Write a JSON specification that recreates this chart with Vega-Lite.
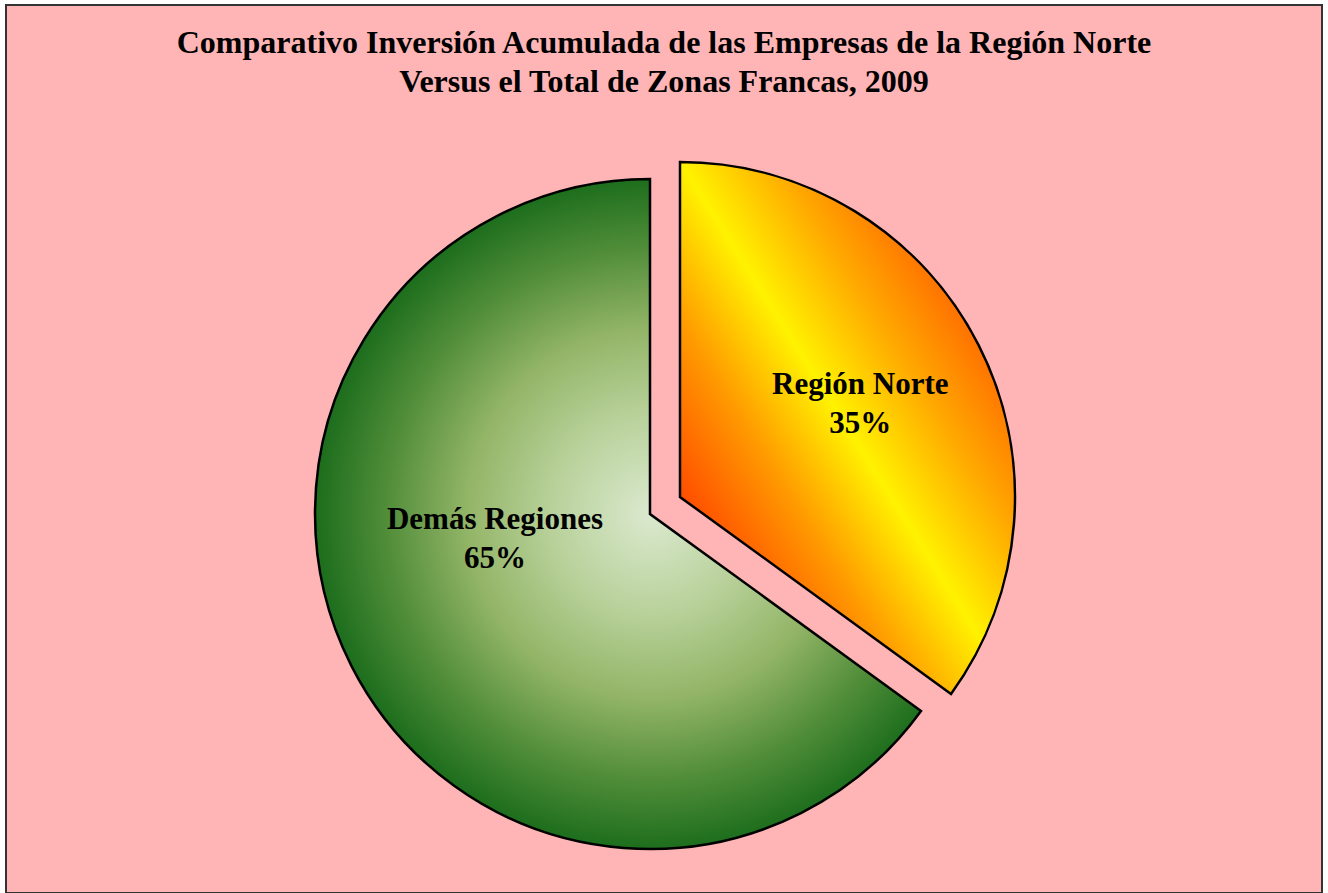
{
  "$schema": "https://vega.github.io/schema/vega-lite/v6.json",
  "autosize": "none",
  "width": 1316,
  "height": 888,
  "padding": {"left": 6, "top": 5, "right": 6, "bottom": 0},
  "background": "#ffffff",
  "view": {"fill": "#ffb5b5", "stroke": "#333333", "strokeWidth": 2},
  "title": {
    "text": ["Comparativo Inversión Acumulada de las Empresas de la Región Norte", "Versus el Total de Zonas Francas, 2009"],
    "font": "Liberation Serif",
    "fontSize": 32,
    "fontWeight": "bold",
    "color": "#000000",
    "anchor": "middle",
    "lineHeight": 39,
    "baseline": "top",
    "offset": -94
  },
  "data": {
    "values": [
      {"region": "Región Norte", "value": 35, "label": "Región Norte\n35%"},
      {"region": "Demás Regiones", "value": 65, "label": "Demás Regiones\n65%"}
    ]
  },
  "encoding": {
    "theta": {"field": "value", "type": "quantitative", "stack": true},
    "order": {"field": "value", "type": "quantitative", "sort": "ascending"}
  },
  "layer": [
    {
      "mark": {
        "type": "arc",
        "radius": 335,
        "stroke": "#000000",
        "strokeWidth": 2.5,
        "x": {"expr": "width/2 - 14"},
        "y": {"expr": "height/2 + 65"},
        "xOffset": {"expr": "datum.region == 'Región Norte' ? 30 : 0"},
        "yOffset": {"expr": "datum.region == 'Región Norte' ? -17 : 0"},
        "fill": {"expr": "datum.region == 'Región Norte' ? {gradient: 'linear', x1: 0, y1: 1, x2: 1, y2: 0, stops: [{offset: 0, color: '#ff2a00'}, {offset: 0.18, color: '#ff4a00'}, {offset: 0.35, color: '#ff9a00'}, {offset: 0.5, color: '#fff200'}, {offset: 0.65, color: '#ffa800'}, {offset: 0.85, color: '#ff5200'}, {offset: 1, color: '#ff3000'}]} : {gradient: 'radial', x1: 0.55, y1: 0.5, r1: 0, x2: 0.55, y2: 0.5, r2: 0.5, stops: [{offset: 0, color: '#dbe9cf'}, {offset: 0.3, color: '#b8d19a'}, {offset: 0.55, color: '#93b567'}, {offset: 0.8, color: '#4f8c38'}, {offset: 1, color: '#1d6e1d'}]}"}
      }
    },
    {
      "mark": {
        "type": "text",
        "font": "Liberation Serif",
        "fontSize": 31,
        "fontWeight": "bold",
        "color": "#000000",
        "lineBreak": "\n",
        "lineHeight": 39,
        "align": "center",
        "baseline": "middle",
        "x": {"expr": "width/2 - 14"},
        "y": {"expr": "height/2 + 65"},
        "radius": {"expr": "datum.region == 'Región Norte' ? 236 : 174"},
        "dy": {"expr": "datum.region == 'Región Norte' ? -22 : -73"}
      },
      "encoding": {
        "text": {"field": "label", "type": "nominal"}
      }
    }
  ]
}
